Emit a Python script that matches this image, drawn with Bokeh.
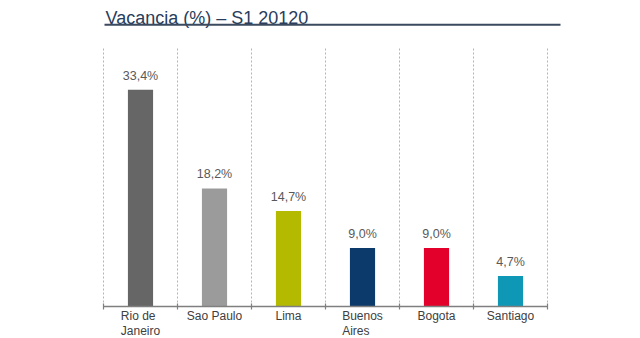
from bokeh.plotting import figure
from bokeh.models import (Range1d, Label, BoxAnnotation, ColumnDataSource, LabelSet)
from bokeh.core.properties import value
from bokeh.embed import file_html
from bokeh.resources import INLINE

title_text = "Vacancia (%) – S1 20120"
cities = ["Rio de\nJaneiro", "Sao Paulo", "Lima", "Buenos\nAires", "Bogota", "Santiago"]
vacancy = [33.4, 18.2, 14.7, 9.0, 9.0, 4.7]
value_labels = ["33,4%", "18,2%", "14,7%", "9,0%", "9,0%", "4,7%"]
bar_colors = ["#666666", "#9b9b9b", "#b3ba00", "#0c3a6b", "#e3002b", "#0f97b6"]
y_top = 40

FONT = "Liberation Sans"
W, H = 640, 338
CAT_PX = 74.0      # pixels per category slot
VAL_PX = 6.49      # pixels per percentage point
LEFT_PX = 103      # left edge of first slot
BASE_PX = 306      # baseline (y) in pixels


def px_x(px):
    return (px - LEFT_PX) / CAT_PX


def px_y(py):
    return (BASE_PX - py) / VAL_PX


n = len(cities)
p = figure(width=W, height=H,
           x_range=Range1d(px_x(0), px_x(W)),
           y_range=Range1d(px_y(H), px_y(0)),
           output_backend="svg", toolbar_location=None,
           min_border=0)
p.outline_line_color = None
p.background_fill_color = "white"
p.border_fill_color = "white"
p.grid.visible = False
p.axis.visible = False

slot_center = [i + 0.5 for i in range(n)]
bounds = list(range(n + 1))

sep = ColumnDataSource(dict(x=bounds, y0=[0] * (n + 1), y1=[y_top] * (n + 1),
                            t0=[-0.46] * (n + 1), t1=[0.46] * (n + 1)))
p.segment(x0="x", y0="y0", x1="x", y1="y1", source=sep,
          line_color="#b4b4b4", line_width=1, line_dash="2 2")

src = ColumnDataSource(dict(x=slot_center, city=cities, v=vacancy, lab=value_labels,
                            col=bar_colors, base=[0] * n))
p.vbar(x="x", top="v", bottom=0, width=0.34, source=src,
       fill_color="col", line_color=None)

# baseline and boundary ticks
p.segment(x0=[bounds[0]], y0=[0], x1=[bounds[-1]], y1=[0],
          line_color="#7f7f7f", line_width=1.5)
p.segment(x0="x", y0="t0", x1="x", y1="t1", source=sep,
          line_color="#7f7f7f", line_width=1.2)

# value labels
p.add_layout(LabelSet(x="x", y="v", text="lab", source=src, y_offset=10,
                      text_align="center", text_baseline="alphabetic",
                      text_font=value(FONT), text_font_size="12.5px",
                      text_color="#595959"))
# category labels
p.add_layout(LabelSet(x="x", y="base", text="city", source=src, y_offset=-2,
                      text_align="center", text_baseline="top",
                      text_font=value(FONT), text_font_size="12px",
                      text_line_height=1.1, text_color="#404040"))

# title and underline
p.add_layout(Label(x=px_x(105), y=px_y(17),
                   text=title_text, text_font=FONT, text_font_size="18px",
                   text_color="#283d5c", text_baseline="alphabetic"))
p.add_layout(BoxAnnotation(left=px_x(104), right=px_x(560),
                           top=px_y(23.3), bottom=px_y(25.3),
                           fill_color="#3b4a5e", fill_alpha=1, line_color=None))

open("out.html", "w").write(file_html(p, INLINE))
